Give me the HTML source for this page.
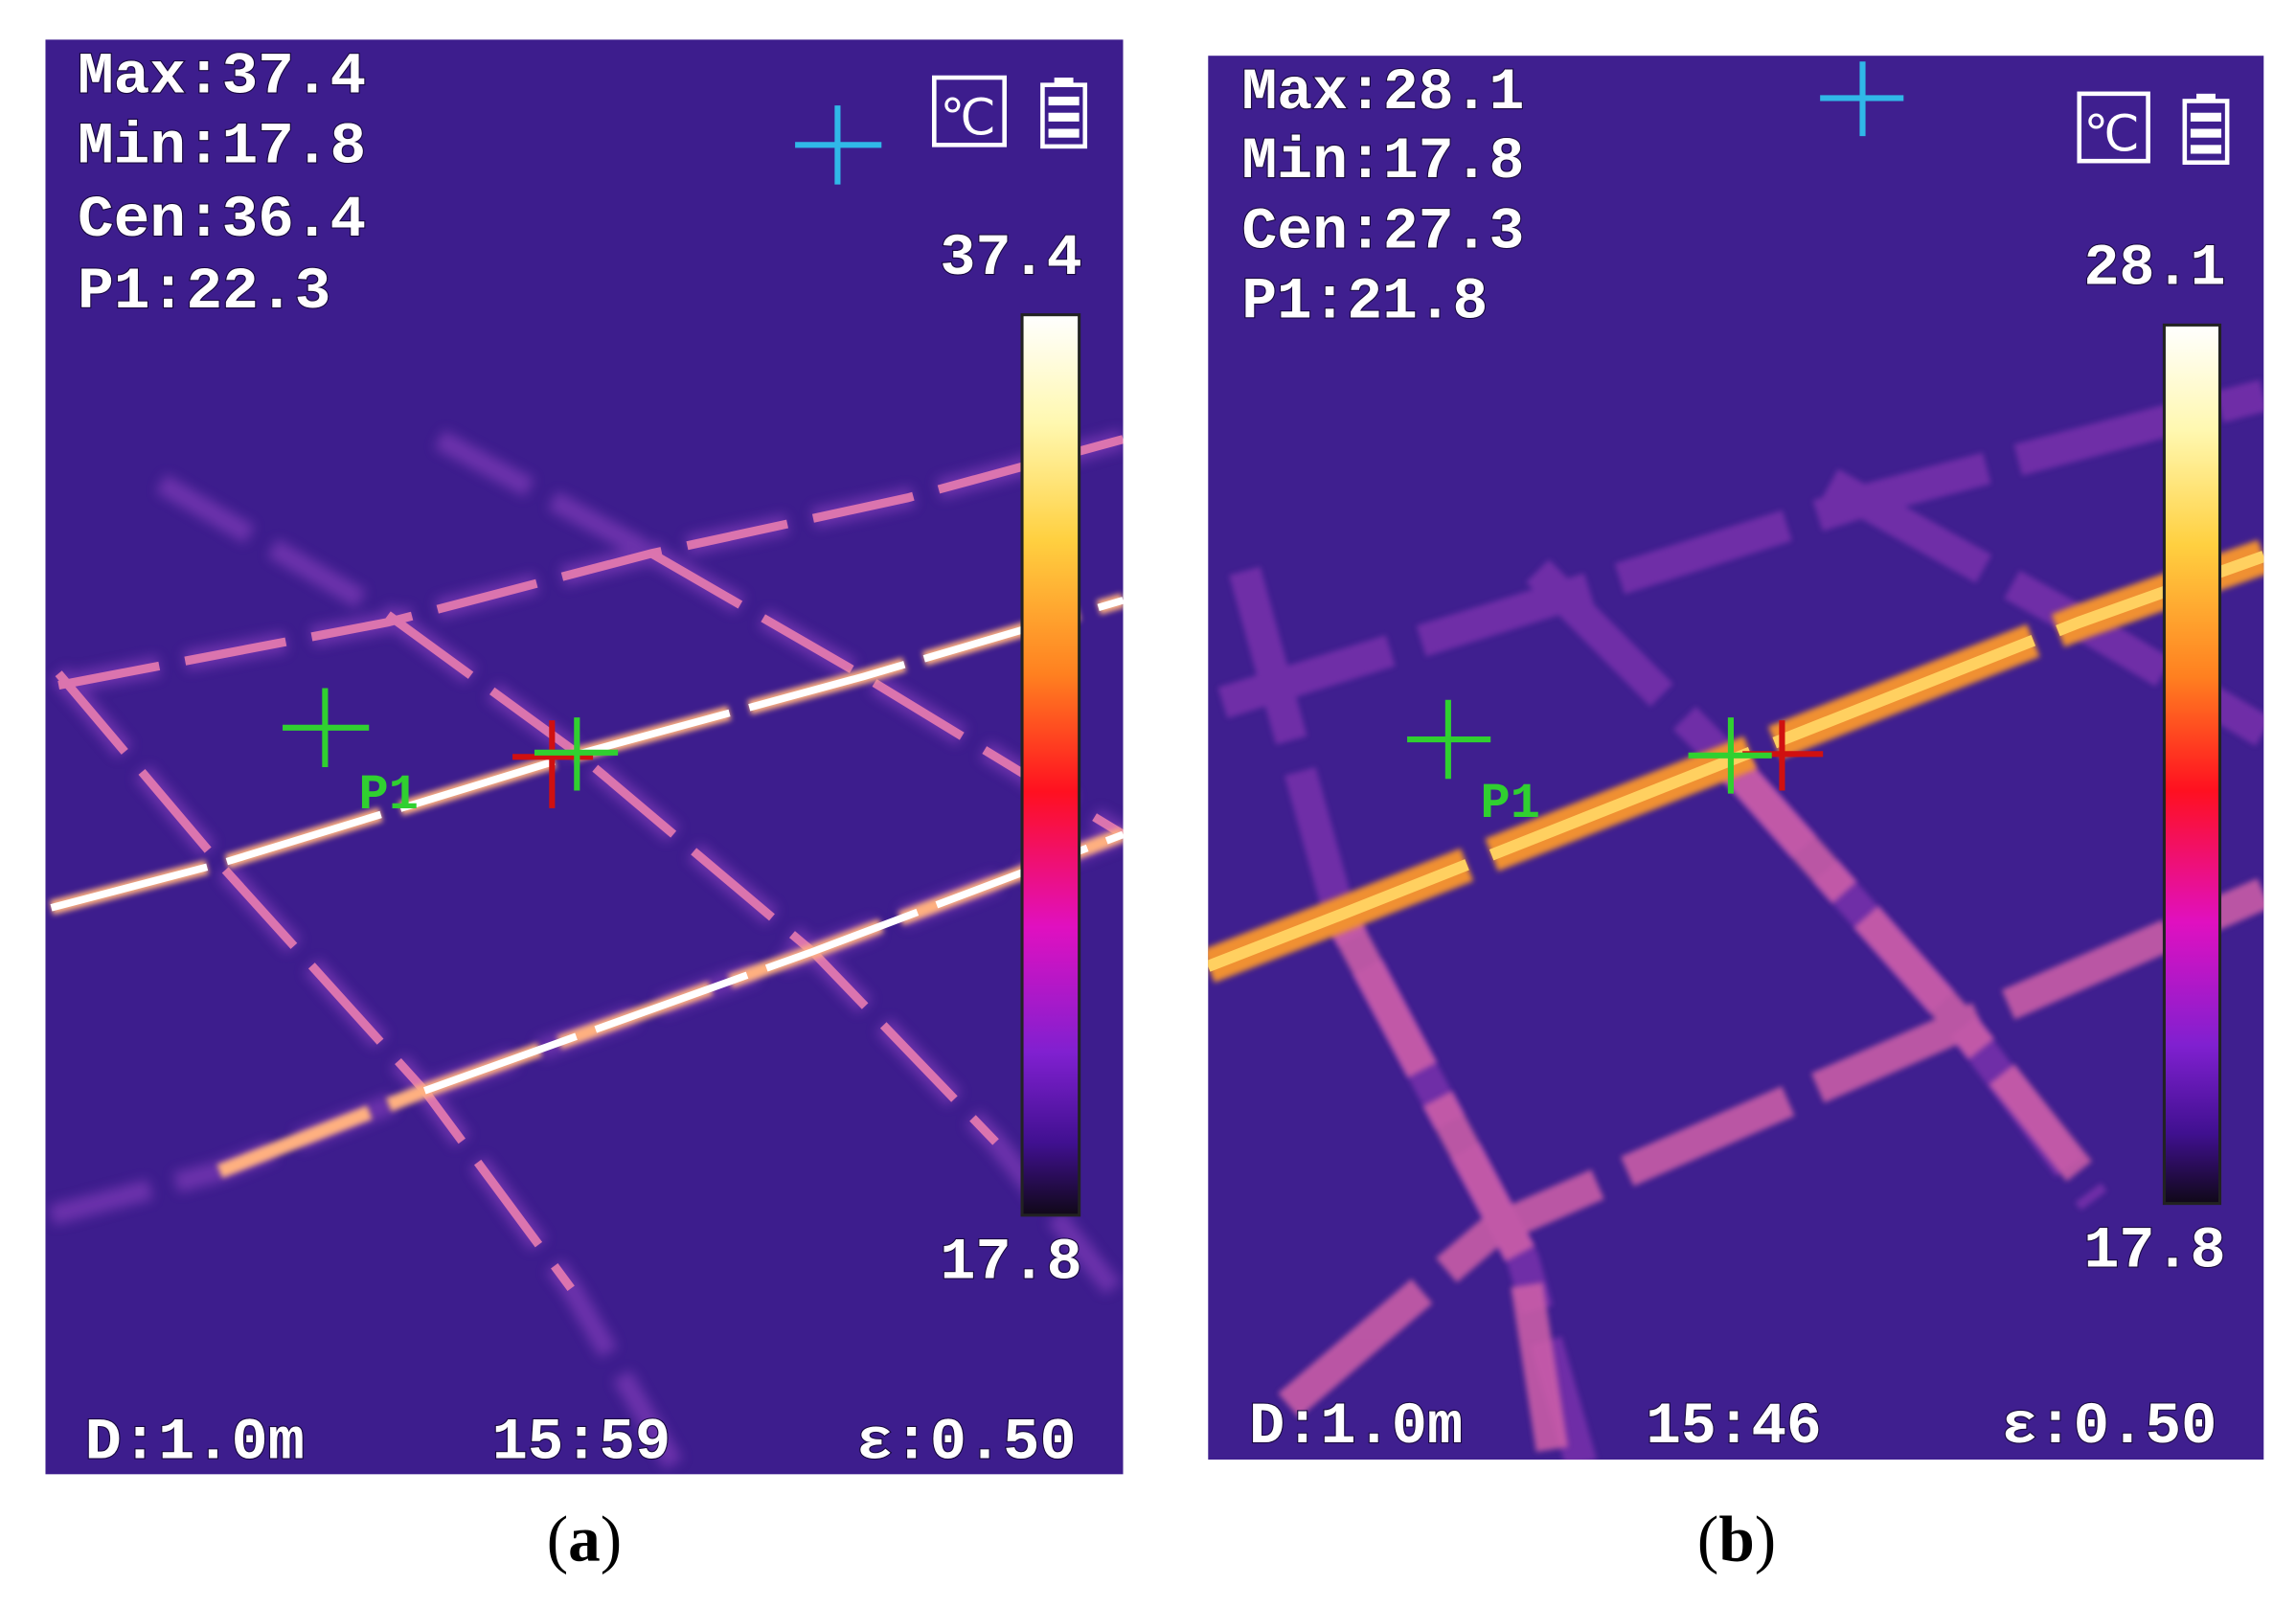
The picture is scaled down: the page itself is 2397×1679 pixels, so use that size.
<!DOCTYPE html>
<html><head><meta charset="utf-8">
<style>
html,body{margin:0;padding:0;background:#fff;}
svg{display:block;}
.t{font-family:"Liberation Mono",monospace;font-weight:bold;fill:#fff;stroke:#1a0a40;stroke-width:1.5;paint-order:stroke;}
.cap{font-family:"Liberation Serif",serif;font-size:44px;fill:#000;}
</style></head>
<body>
<svg width="2397" height="1679" viewBox="0 0 1568 1098.3" preserveAspectRatio="none">
<defs>
<linearGradient id="cb" x1="0" y1="0" x2="0" y2="1">
<stop offset="0" stop-color="#ffffff"/><stop offset="0.12" stop-color="#fff8b0"/><stop offset="0.25" stop-color="#ffd040"/>
<stop offset="0.4" stop-color="#ff8020"/><stop offset="0.53" stop-color="#ff1020"/><stop offset="0.68" stop-color="#e010c0"/>
<stop offset="0.82" stop-color="#8020d0"/><stop offset="0.92" stop-color="#401090"/><stop offset="1" stop-color="#100818"/>
</linearGradient>
<filter id="blur"><feGaussianBlur stdDeviation="4"/></filter>
<filter id="blur2"><feGaussianBlur stdDeviation="2"/></filter>
<clipPath id="ca"><rect x="31" y="27" width="736" height="980"/></clipPath>
<clipPath id="cbp"><rect x="825" y="38" width="721" height="959"/></clipPath>
</defs>

<!-- Panel a -->
<g clip-path="url(#ca)">
<rect x="31" y="27" width="736" height="980" fill="#3d1d8d"/>
<g stroke="#8a40c0" stroke-width="14" fill="none" stroke-dasharray="70 18" opacity="0.6" filter="url(#blur)">
<polyline points="40,468 265,425 445,378 620,340 767,300"/>
<polyline points="35,830 150,800 290,745 555,650 767,570"/>
<polyline points="40,460 150,590 290,745 390,880 460,1000"/>
<polyline points="265,420 395,515 555,650 680,780 760,880"/>
<polyline points="445,378 590,462 767,570"/>
<polyline points="110,330 265,420"/>
<polyline points="300,300 445,378"/>
</g>
<g stroke="#f080b0" stroke-width="6" fill="none" stroke-dasharray="70 18" opacity="0.85">
<polyline points="40,468 265,425 445,378 620,340 767,300"/>
<polyline points="40,460 150,590 290,745 390,880"/>
<polyline points="265,420 395,515 555,650 680,780"/>
<polyline points="445,378 590,462 767,570"/>
</g>
<g stroke="#ffb080" stroke-width="10" fill="none" stroke-dasharray="110 14" filter="url(#blur2)">
<polyline points="35,620 150,590 395,515 590,462 767,410"/>
<polyline points="150,800 290,745 555,650 767,570"/>
</g>
<g stroke="#ffffff" stroke-width="5" fill="none" stroke-dasharray="110 14">
<polyline points="35,620 150,590 395,515 590,462 767,410"/>
<polyline points="290,745 555,650 767,570"/>
</g>
<rect x="698" y="215" width="39" height="615" fill="url(#cb)" stroke="#222" stroke-width="2"/>
<g class="t" font-size="40">
<text x="53" y="63" textLength="197" lengthAdjust="spacingAndGlyphs">Max:37.4</text>
<text x="53" y="111" textLength="197" lengthAdjust="spacingAndGlyphs">Min:17.8</text>
<text x="53" y="161" textLength="197" lengthAdjust="spacingAndGlyphs">Cen:36.4</text>
<text x="53" y="210" textLength="173" lengthAdjust="spacingAndGlyphs">P1:22.3</text>
<text x="642" y="187" textLength="97" lengthAdjust="spacingAndGlyphs">37.4</text>
<text x="642" y="873" textLength="97" lengthAdjust="spacingAndGlyphs">17.8</text>
<text x="58" y="996" textLength="150" lengthAdjust="spacingAndGlyphs">D:1.0m</text>
<text x="336" y="996" textLength="122" lengthAdjust="spacingAndGlyphs">15:59</text>
<text x="585" y="996" textLength="150" lengthAdjust="spacingAndGlyphs">ε:0.50</text>
</g>
<g stroke="#30b8e8" stroke-width="4"><line x1="543" y1="99" x2="602" y2="99"/><line x1="572" y1="72" x2="572" y2="126"/></g>
<g stroke="#fff" stroke-width="3" fill="none"><rect x="638" y="53" width="48" height="46"/></g>
<text x="642" y="92" font-family="Liberation Sans,sans-serif" font-size="34" fill="#fff">℃</text>
<g fill="#fff"><rect x="712" y="58" width="29" height="42" fill="none" stroke="#fff" stroke-width="3"/><rect x="720" y="53" width="13" height="5"/><rect x="716" y="66" width="21" height="6"/><rect x="716" y="77" width="21" height="6"/><rect x="716" y="88" width="21" height="6"/></g>
<g stroke="#30d030" stroke-width="4"><line x1="193" y1="497" x2="252" y2="497"/><line x1="222" y1="470" x2="222" y2="524"/></g>
<text x="245" y="552" font-family="Liberation Mono,monospace" font-weight="bold" font-size="34" fill="#30d030">P1</text>
<g stroke="#d01010" stroke-width="4"><line x1="350" y1="517" x2="405" y2="517"/><line x1="377" y1="492" x2="377" y2="552"/></g>
<g stroke="#30d030" stroke-width="4"><line x1="365" y1="514" x2="422" y2="514"/><line x1="394" y1="490" x2="394" y2="540"/></g>
</g>

<!-- Panel b -->
<g clip-path="url(#cbp)">
<rect x="825" y="38" width="721" height="959" fill="#3f1f8f"/>
<g stroke="#9038b8" stroke-width="22" fill="none" stroke-dasharray="120 22" opacity="0.6" filter="url(#blur2)">
<polyline points="835,480 1060,410 1280,340 1546,270"/>
<polyline points="850,390 915,625 1040,860 1080,1000"/>
<polyline points="1050,390 1180,520 1340,700 1430,820"/>
<polyline points="1250,330 1420,425 1546,500"/>
</g>
<g stroke="#d060a8" stroke-width="22" fill="none" stroke-dasharray="120 22" opacity="0.85" filter="url(#blur2)">
<polyline points="880,960 1020,840 1340,700 1546,610"/>
<polyline points="915,625 1040,860 1060,990"/>
<polyline points="1180,520 1340,700 1420,800"/>
</g>
<g stroke="#f09030" stroke-width="24" fill="none" stroke-dasharray="190 18" filter="url(#blur2)">
<polyline points="825,660 915,625 1180,520 1420,425 1546,380"/>
</g>
<g stroke="#ffd060" stroke-width="8" fill="none" stroke-dasharray="190 18">
<polyline points="825,660 915,625 1180,520 1420,425 1546,380"/>
</g>
<rect x="1478" y="222" width="38" height="600" fill="url(#cb)" stroke="#222" stroke-width="2"/>
<g class="t" font-size="40">
<text x="848" y="74" textLength="193" lengthAdjust="spacingAndGlyphs">Max:28.1</text>
<text x="848" y="121" textLength="193" lengthAdjust="spacingAndGlyphs">Min:17.8</text>
<text x="848" y="169" textLength="193" lengthAdjust="spacingAndGlyphs">Cen:27.3</text>
<text x="848" y="217" textLength="168" lengthAdjust="spacingAndGlyphs">P1:21.8</text>
<text x="1423" y="194" textLength="97" lengthAdjust="spacingAndGlyphs">28.1</text>
<text x="1423" y="865" textLength="97" lengthAdjust="spacingAndGlyphs">17.8</text>
<text x="853" y="985" textLength="146" lengthAdjust="spacingAndGlyphs">D:1.0m</text>
<text x="1124" y="985" textLength="120" lengthAdjust="spacingAndGlyphs">15:46</text>
<text x="1367" y="985" textLength="147" lengthAdjust="spacingAndGlyphs">ε:0.50</text>
</g>
<g stroke="#30b8e8" stroke-width="4"><line x1="1243" y1="67" x2="1300" y2="67"/><line x1="1272" y1="42" x2="1272" y2="93"/></g>
<g stroke="#fff" stroke-width="3" fill="none"><rect x="1420" y="64" width="47" height="46"/></g>
<text x="1423" y="103" font-family="Liberation Sans,sans-serif" font-size="34" fill="#fff">℃</text>
<g fill="#fff"><rect x="1492" y="69" width="29" height="42" fill="none" stroke="#fff" stroke-width="3"/><rect x="1500" y="64" width="13" height="5"/><rect x="1496" y="77" width="21" height="6"/><rect x="1496" y="88" width="21" height="6"/><rect x="1496" y="99" width="21" height="6"/></g>
<g stroke="#30d030" stroke-width="4"><line x1="961" y1="505" x2="1018" y2="505"/><line x1="989" y1="478" x2="989" y2="532"/></g>
<text x="1011" y="558" font-family="Liberation Mono,monospace" font-weight="bold" font-size="34" fill="#30d030">P1</text>
<g stroke="#d01010" stroke-width="4"><line x1="1190" y1="515" x2="1245" y2="515"/><line x1="1217" y1="492" x2="1217" y2="540"/></g>
<g stroke="#30d030" stroke-width="4"><line x1="1153" y1="516" x2="1210" y2="516"/><line x1="1182" y1="490" x2="1182" y2="542"/></g>
</g>

<text x="399" y="1066" text-anchor="middle" class="cap">(<tspan font-weight="bold">a</tspan>)</text>
<text x="1186" y="1066" text-anchor="middle" class="cap">(<tspan font-weight="bold">b</tspan>)</text>
</svg>
</body></html>
